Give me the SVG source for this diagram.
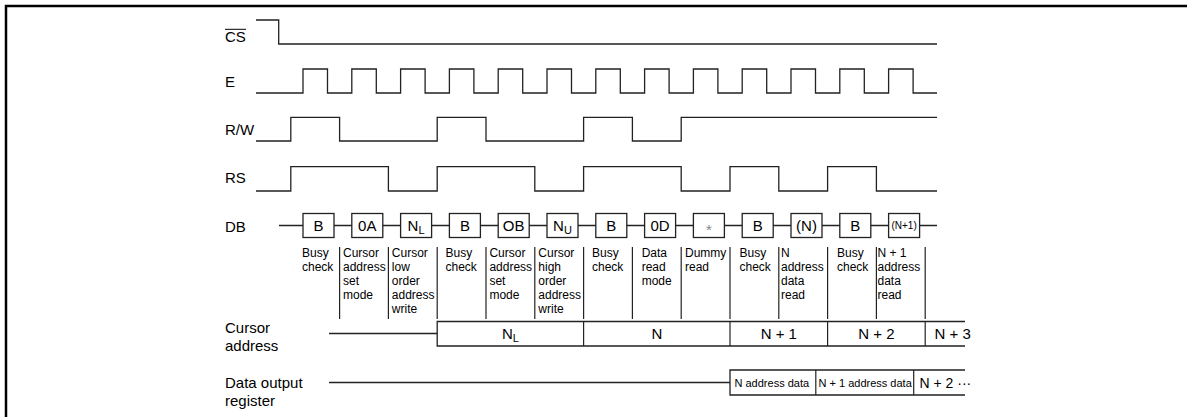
<svg xmlns="http://www.w3.org/2000/svg" width="1187" height="417" viewBox="0 0 1187 417">
<style>
text{font-family:"Liberation Sans",Arial,Helvetica,sans-serif;fill:#000}
.lbl{font-size:15px}
.desc{font-size:12px}
.box{font-size:15px;text-anchor:middle}
.sig{fill:none;stroke:#222;stroke-width:1.3}
.bx{fill:#fff;stroke:#222;stroke-width:1.3}
.sep{stroke:#222;stroke-width:1.2}
.mid{text-anchor:middle}
.sub{font-size:11px}
</style>
<rect width="1187" height="417" fill="#fff"/>
<path d="M6,417 V6 H1187" fill="none" stroke="#000" stroke-width="2.5"/>
<g id="labels">
<text class="lbl" x="225" y="41.7">CS</text>
<line x1="225" y1="29.3" x2="246" y2="29.3" stroke="#000" stroke-width="1"/>
<text class="lbl" x="225" y="86.5">E</text>
<text class="lbl" x="225" y="135">R/W</text>
<text class="lbl" x="225" y="182.5">RS</text>
<text class="lbl" x="225" y="231.7">DB</text>
<text class="lbl" x="225" y="333">Cursor</text>
<text class="lbl" x="225" y="351">address</text>
<text class="lbl" x="225" y="388">Data output</text>
<text class="lbl" x="225" y="406">register</text>
</g>
<g id="signals">
<path id="cs" class="sig" d="M256,20 H278.7 V44 H937"/>
<path id="e" class="sig" d="M256,93 H303 V69 H327.5 V93 H351.8 V69 H376.3 V93 H400.6 V69 H425.1 V93 H449.4 V69 H473.9 V93 H498.2 V69 H522.7 V93 H547 V69 H571.5 V93 H595.8 V69 H620.3 V93 H644.6 V69 H669.1 V93 H693.4 V69 H717.9 V93 H742.2 V69 H766.7 V93 H791 V69 H815.5 V93 H839.8 V69 H864.3 V93 H888.6 V69 H913.1 V93 H937"/>
<path id="rw" class="sig" d="M256,141 H290.8 V117.3 H339.6 V141 H437.2 V117.3 H486 V141 H583.6 V117.3 H632.4 V141 H681.2 V117.3 H937"/>
<path id="rs" class="sig" d="M256,191 H290.8 V166.7 H388.4 V191 H437.2 V166.7 H534.8 V191 H583.6 V166.7 H681.2 V191 H730 V166.7 H778.8 V191 H827.6 V166.7 H876.4 V191 H937"/>
<line id="db" class="sig" x1="279" y1="225.5" x2="937" y2="225.5"/>
</g>
<g id="db-boxes">
<g id="b0"><rect class="bx" x="303" y="213.5" width="31" height="24"/><text class="box" x="318.5" y="231.2">B</text></g>
<g id="b1"><rect class="bx" x="351.8" y="213.5" width="31" height="24"/><text class="box" x="367.3" y="231.2">0A</text></g>
<g id="b2"><rect class="bx" x="400.6" y="213.5" width="31" height="24"/><text class="box" x="416.1" y="231.2">N<tspan class="sub" dy="3">L</tspan></text></g>
<g id="b3"><rect class="bx" x="449.4" y="213.5" width="31" height="24"/><text class="box" x="464.9" y="231.2">B</text></g>
<g id="b4"><rect class="bx" x="498.2" y="213.5" width="31" height="24"/><text class="box" x="513.7" y="231.2">OB</text></g>
<g id="b5"><rect class="bx" x="547" y="213.5" width="31" height="24"/><text class="box" x="562.5" y="231.2">N<tspan class="sub" dy="3">U</tspan></text></g>
<g id="b6"><rect class="bx" x="595.8" y="213.5" width="31" height="24"/><text class="box" x="611.3" y="231.2">B</text></g>
<g id="b7"><rect class="bx" x="644.6" y="213.5" width="31" height="24"/><text class="box" x="660.1" y="231.2">0D</text></g>
<g id="b8"><rect class="bx" x="693.4" y="213.5" width="31" height="24"/><text class="box" x="708.9" y="234.5" style="font-size:15px;fill:#888">*</text></g>
<g id="b9"><rect class="bx" x="742.2" y="213.5" width="31" height="24"/><text class="box" x="757.7" y="231.2">B</text></g>
<g id="b10"><rect class="bx" x="791" y="213.5" width="31" height="24"/><text class="box" x="806.5" y="231.2">(N)</text></g>
<g id="b11"><rect class="bx" x="839.8" y="213.5" width="31" height="24"/><text class="box" x="855.3" y="231.2">B</text></g>
<g id="b12"><rect class="bx" x="888.6" y="213.5" width="31" height="24"/><text class="box" x="904.1" y="229.3" style="font-size:10px">(N+1)</text></g>
</g>
<g id="separators">
<line class="sep" x1="339.6" y1="247" x2="339.6" y2="319"/>
<line class="sep" x1="388.4" y1="247" x2="388.4" y2="319"/>
<line class="sep" x1="437.2" y1="247" x2="437.2" y2="319"/>
<line class="sep" x1="486" y1="247" x2="486" y2="319"/>
<line class="sep" x1="534.8" y1="247" x2="534.8" y2="319"/>
<line class="sep" x1="583.6" y1="247" x2="583.6" y2="319"/>
<line class="sep" x1="632.4" y1="247" x2="632.4" y2="319"/>
<line class="sep" x1="681.2" y1="247" x2="681.2" y2="319"/>
<line class="sep" x1="730" y1="247" x2="730" y2="319"/>
<line class="sep" x1="778.8" y1="247" x2="778.8" y2="319"/>
<line class="sep" x1="827.6" y1="247" x2="827.6" y2="319"/>
<line class="sep" x1="876.4" y1="247" x2="876.4" y2="319"/>
<line class="sep" x1="925.2" y1="247" x2="925.2" y2="319"/>
</g>
<g id="descriptions">
<text class="desc"><tspan x="302" y="257.3">Busy</tspan><tspan x="302" y="271.3">check</tspan></text>
<text class="desc"><tspan x="343" y="257.3">Cursor</tspan><tspan x="343" y="271.3">address</tspan><tspan x="343" y="285.3">set</tspan><tspan x="343" y="299.3">mode</tspan></text>
<text class="desc"><tspan x="391.8" y="257.3">Cursor</tspan><tspan x="391.8" y="271.3">low</tspan><tspan x="391.8" y="285.3">order</tspan><tspan x="391.8" y="299.3">address</tspan><tspan x="391.8" y="313.3">write</tspan></text>
<text class="desc"><tspan x="445.5" y="257.3">Busy</tspan><tspan x="445.5" y="271.3">check</tspan></text>
<text class="desc"><tspan x="489.4" y="257.3">Cursor</tspan><tspan x="489.4" y="271.3">address</tspan><tspan x="489.4" y="285.3">set</tspan><tspan x="489.4" y="299.3">mode</tspan></text>
<text class="desc"><tspan x="538.3" y="257.3">Cursor</tspan><tspan x="538.3" y="271.3">high</tspan><tspan x="538.3" y="285.3">order</tspan><tspan x="538.3" y="299.3">address</tspan><tspan x="538.3" y="313.3">write</tspan></text>
<text class="desc"><tspan x="592" y="257.3">Busy</tspan><tspan x="592" y="271.3">check</tspan></text>
<text class="desc"><tspan x="641.7" y="257.3">Data</tspan><tspan x="641.7" y="271.3">read</tspan><tspan x="641.7" y="285.3">mode</tspan></text>
<text class="desc"><tspan x="685" y="257.3">Dummy</tspan><tspan x="685" y="271.3">read</tspan></text>
<text class="desc"><tspan x="739.5" y="257.3">Busy</tspan><tspan x="739.5" y="271.3">check</tspan></text>
<text class="desc"><tspan x="781" y="257.3">N</tspan><tspan x="781" y="271.3">address</tspan><tspan x="781" y="285.3">data</tspan><tspan x="781" y="299.3">read</tspan></text>
<text class="desc"><tspan x="837" y="257.3">Busy</tspan><tspan x="837" y="271.3">check</tspan></text>
<text class="desc"><tspan x="877.5" y="257.3">N + 1</tspan><tspan x="877.5" y="271.3">address</tspan><tspan x="877.5" y="285.3">data</tspan><tspan x="877.5" y="299.3">read</tspan></text>
</g>
<g id="cursor-address">
<line class="sig" x1="329" y1="333.5" x2="437.2" y2="333.5"/>
<path class="sig" d="M965,321.5 H437.2 V346 H965"/>
<line class="sep" x1="583.6" y1="321.5" x2="583.6" y2="346"/>
<line class="sep" x1="730" y1="321.5" x2="730" y2="346"/>
<line class="sep" x1="827.6" y1="321.5" x2="827.6" y2="346"/>
<line class="sep" x1="925.2" y1="321.5" x2="925.2" y2="346"/>
<text class="lbl mid" x="510.4" y="339">N<tspan class="sub" dy="3">L</tspan></text>
<text class="lbl mid" x="656.8" y="339">N</text>
<text class="lbl mid" x="778.8" y="339">N + 1</text>
<text class="lbl mid" x="876.4" y="339">N + 2</text>
<text class="lbl" x="934.5" y="339">N + 3</text>
</g>
<g id="data-output">
<line class="sig" x1="329" y1="382.5" x2="730" y2="382.5"/>
<path class="sig" d="M965,370 H730 V395 H965"/>
<line class="sep" x1="815.8" y1="370" x2="815.8" y2="395"/>
<line class="sep" x1="913.7" y1="370" x2="913.7" y2="395"/>
<text x="734.5" y="387" font-size="11">N address data</text>
<text x="818.5" y="387" font-size="11">N + 1 address data</text>
<text x="919.5" y="387.5" font-size="14">N + 2 ···</text>
</g>
</svg>
